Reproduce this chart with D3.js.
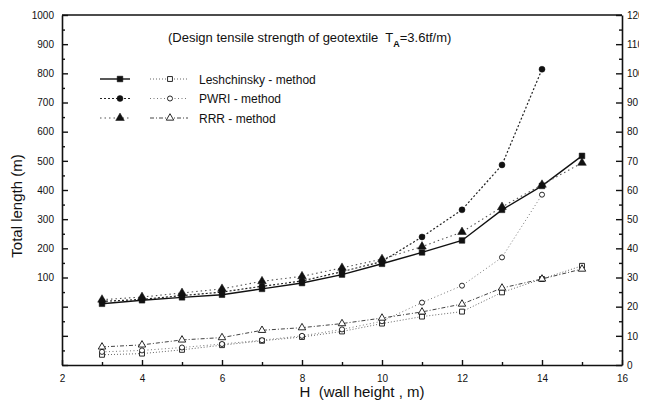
<!DOCTYPE html>
<html>
<head>
<meta charset="utf-8">
<script src="https://cdn.jsdelivr.net/npm/d3@7"></script>
<style>
  body { margin: 0; background: #fff; }
  text { font-family: "Liberation Sans", Arial, sans-serif; fill: #111; }
</style>
</head>
<body>
<div id="chart"></div>
<script>
// wall height H (m)
const heights = [3, 4, 5, 6, 7, 8, 9, 10, 11, 12, 13, 14, 15];

// total length, read on left axis (filled markers)
const leshFilled = [10, 22, 32, 41, 61, 81, 110, 147, 186, 227, 332, 414, 517];
const pwriFilled = [18, 25, 38, 50, 70, 88, 120, 155, 239, 332, 486, 814];
const rrrFilled  = [24, 33, 47, 61, 87, 104, 133, 163, 206, 256, 342, 418, 493];

// read on right axis (open markers)
const leshOpen = [3.5, 3.9, 5.2, 6.8, 8.3, 9.6, 11.5, 14.2, 16.6, 18.3, 24.9, 29.5, 34];
const pwriOpen = [4.5, 5, 6, 7.2, 8.5, 10, 12.2, 15, 21.4, 27.2, 36.9, 58.4];
const rrrOpen  = [6.2, 6.9, 8.6, 9.4, 11.9, 12.8, 14.2, 16.1, 18.2, 20.9, 26.4, 29.5, 32.9];

const legendNames = ["Leshchinsky - method", "PWRI - method", "RRR - method"];
const xTicks = [2, 4, 6, 8, 10, 12, 14, 16];
const leftTicks = d3.range(-200, 1001, 100);
const rightTicks = d3.range(0, 121, 10);

const width = 652, height = 407;
const margin = {top: 15, right: 30, bottom: 42, left: 62};

const svg = d3.select("#chart").append("svg")
    .attr("width", width)
    .attr("height", height);

let x = d3.scaleLinear().domain([2, 16]).range([margin.left, width - margin.right]);
let yL = d3.scaleLinear().domain([-200, 1000]).range([height - margin.bottom, margin.top]);
let yR = d3.scaleLinear().domain([0, 120]).range([height - margin.bottom, margin.top]);

// axes
function styleAxis(g) {
    g.select(".domain").attr("stroke", "#111").attr("stroke-width", 1.6);
    g.selectAll(".tick line").attr("stroke", "#111").attr("stroke-width", 1.4);
    g.selectAll(".tick text").attr("font-size", 10).attr("font-family", "Liberation Sans, Arial, sans-serif");
}

svg.append("g")
    .attr("transform", `translate(0,${yL.range()[0]})`)
    .call(d3.axisBottom(x).tickValues(xTicks).tickSize(-5).tickSizeOuter(0).tickPadding(10).tickFormat(d3.format("d")))
    .call(styleAxis);
svg.append("g")
    .attr("transform", `translate(0,${yL.range()[0]})`)
    .call(d3.axisBottom(x).tickValues(d3.range(3, 16, 2)).tickSize(-3).tickFormat(""))
    .call(g => g.select(".domain").remove())
    .call(styleAxis);

svg.append("g")
    .attr("transform", `translate(${margin.left},0)`)
    .call(d3.axisLeft(yL).tickValues(leftTicks).tickSize(-6).tickSizeOuter(0).tickPadding(8)
        .tickFormat(d => d >= 100 ? d : ""))
    .call(styleAxis);
svg.append("g")
    .attr("transform", `translate(${margin.left},0)`)
    .call(d3.axisLeft(yL).tickValues(d3.range(-150, 1000, 100)).tickSize(-3).tickFormat(""))
    .call(g => g.select(".domain").remove())
    .call(styleAxis);

// right labels are cut off in the scan (clip in the axis group's own coordinates)
svg.append("clipPath").attr("id", "rclip")
    .append("rect").attr("x", -60).attr("y", 0).attr("width", 77).attr("height", height);

svg.append("g")
    .attr("transform", `translate(${width - margin.right},0)`)
    .attr("clip-path", "url(#rclip)")
    .call(d3.axisRight(yR).tickValues(rightTicks).tickSize(-6).tickSizeOuter(0).tickPadding(5))
    .call(styleAxis);
svg.append("g")
    .attr("transform", `translate(${width - margin.right},0)`)
    .call(d3.axisRight(yR).tickValues(d3.range(5, 120, 10)).tickSize(-3).tickFormat(""))
    .call(g => g.select(".domain").remove())
    .call(styleAxis);

// top frame
svg.append("line")
    .attr("x1", margin.left).attr("x2", width - margin.right)
    .attr("y1", margin.top).attr("y2", margin.top)
    .attr("stroke", "#111").attr("stroke-width", 1.6);

// axis titles
svg.append("text")
    .attr("transform", `translate(22,${(margin.top + height - margin.bottom) / 2 + 16}) rotate(-90)`)
    .attr("text-anchor", "middle")
    .attr("font-size", 15)
    .text("Total length (m)");

svg.append("text")
    .attr("x", 362).attr("y", 397)
    .attr("text-anchor", "middle")
    .attr("font-size", 15)
    .attr("xml:space", "preserve")
    .text("H  (wall height , m)");

// title with subscript
let title = svg.append("text")
    .attr("x", 168).attr("y", 42)
    .attr("font-size", 13)
    .attr("xml:space", "preserve");
title.append("tspan").text("(Design tensile strength of geotextile  T");
title.append("tspan").attr("dy", 5).attr("font-size", 9).attr("font-weight", "bold").text("A");
title.append("tspan").attr("dy", -5).text("=3.6tf/m)");

// series definitions
const series = [
    {vals: leshFilled, y: yL, marker: "square", filled: true,  dash: null,        stroke: "#111", sw: 1.4},
    {vals: pwriFilled, y: yL, marker: "circle", filled: true,  dash: "2,2",       stroke: "#222", sw: 1.2},
    {vals: rrrFilled,  y: yL, marker: "triangle", filled: true, dash: "1.5,3",    stroke: "#555", sw: 1.1},
    {vals: leshOpen,   y: yR, marker: "square", filled: false, dash: "1,2",       stroke: "#666", sw: 1},
    {vals: pwriOpen,   y: yR, marker: "circle", filled: false, dash: "1,2.5",     stroke: "#777", sw: 1},
    {vals: rrrOpen,    y: yR, marker: "triangle", filled: false, dash: "4,2,1,2", stroke: "#444", sw: 1}
];

const symbolType = {square: d3.symbolSquare, circle: d3.symbolCircle, triangle: d3.symbolTriangle};

function drawMarker(g, s, px, py) {
    let size = s.filled ? (s.marker === "circle" ? 28 : 32) : (s.marker === "circle" ? 20 : 24);
    g.append("path")
        .attr("transform", `translate(${px},${py})`)
        .attr("d", d3.symbol().type(symbolType[s.marker]).size(size)())
        .attr("fill", s.filled ? "#111" : "#fff")
        .attr("stroke", "#111")
        .attr("stroke-width", s.filled ? 0.5 : 0.9);
}

let plot = svg.append("g");
series.forEach(s => {
    let pts = s.vals.map((v, i) => [x(heights[i]), s.y(v)]);
    plot.append("path")
        .attr("d", d3.line()(pts))
        .attr("fill", "none")
        .attr("stroke", s.stroke)
        .attr("stroke-width", s.sw)
        .attr("stroke-dasharray", s.dash);
});
series.forEach(s => {
    s.vals.forEach((v, i) => drawMarker(plot, s, x(heights[i]), s.y(v)));
});

// legend
let legend = svg.append("g");
legendNames.forEach((name, i) => {
    let ly = 79 + i * 19.5;
    [series[i], series[i + 3]].forEach((s, j) => {
        let x0 = j === 0 ? 100 : 150, x1 = j === 0 ? 130 : 188, xm = j === 0 ? 120 : 170;
        legend.append("line")
            .attr("x1", x0).attr("x2", x1).attr("y1", ly).attr("y2", ly)
            .attr("stroke", s.stroke).attr("stroke-width", s.sw)
            .attr("stroke-dasharray", s.dash);
        drawMarker(legend, s, xm, ly);
    });
    legend.append("text")
        .attr("x", 199).attr("y", ly + 4.5)
        .attr("font-size", 12)
        .text(name);
});
</script>
</body>
</html>
